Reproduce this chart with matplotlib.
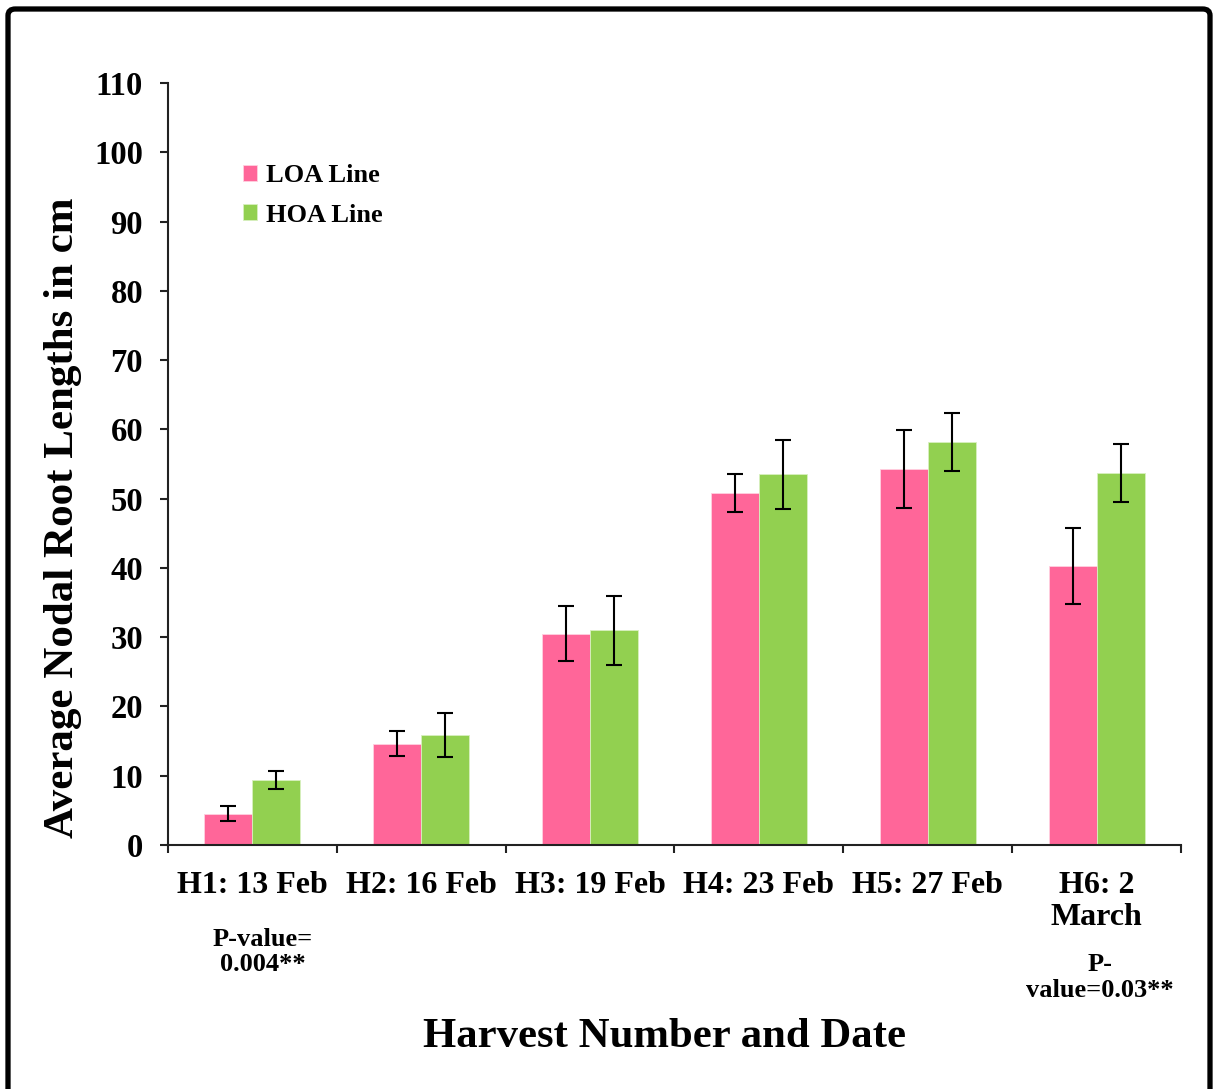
import matplotlib
matplotlib.use("Agg")
import matplotlib.pyplot as plt
from matplotlib.patches import FancyBboxPatch
from matplotlib.ticker import FixedLocator, NullFormatter, FixedFormatter
import numpy as np

categories = ["H1: 13 Feb", "H2: 16 Feb", "H3: 19 Feb", "H4: 23 Feb", "H5: 27 Feb", "H6: 2\nMarch"]
loa_values = [4.5, 14.6, 30.5, 50.8, 54.3, 40.3]
loa_errors = [1.1, 1.8, 4.0, 2.7, 5.6, 5.5]
hoa_values = [9.4, 15.9, 31.0, 53.5, 58.2, 53.7]
hoa_errors = [1.25, 3.2, 5.0, 5.0, 4.15, 4.15]
series_names = ["LOA Line", "HOA Line"]
y_ticks = list(range(0, 111, 10))

pink = "#FF6699"
green = "#92D050"
font = "Liberation Serif"
plt.rcParams['font.family'] = [font, 'DejaVu Serif']
plt.rcParams['font.weight'] = 'bold'

fig = plt.figure(figsize=(12.14, 10.89), dpi=100)
W, H = 1214, 1089
ax = fig.add_axes([168 / W, 1 - 845 / H, (1181 - 168) / W, (845 - 83) / H])

x = np.arange(len(categories))
w = 0.284
err_kw = dict(ecolor="black", elinewidth=1.5, capsize=6, capthick=1.5)
ax.bar(x - w / 2, loa_values, w, color=pink, edgecolor="#FFD0E0", linewidth=0.6,
       yerr=loa_errors, error_kw=err_kw, label=series_names[0], zorder=2)
ax.bar(x + w / 2, hoa_values, w, color=green, edgecolor="#D8F0C0", linewidth=0.6,
       yerr=hoa_errors, error_kw=err_kw, label=series_names[1], zorder=2)

ax.set_xlim(-0.5, len(categories) - 0.5)
ax.set_ylim(0, 110)
ax.set_yticks(y_ticks)
ax.set_yticklabels([str(t) for t in y_ticks])

ax.xaxis.set_major_locator(FixedLocator(np.arange(-0.5, len(categories), 1.0)))
ax.xaxis.set_major_formatter(NullFormatter())
ax.xaxis.set_minor_locator(FixedLocator(x))
ax.xaxis.set_minor_formatter(FixedFormatter(categories))

for s in ["top", "right"]:
    ax.spines[s].set_visible(False)
for s in ["left", "bottom"]:
    ax.spines[s].set_linewidth(1.5)
    ax.spines[s].set_color("#222222")

ax.tick_params(axis="y", which="major", direction="out", length=6, width=1.5,
               color="#222222", labelsize=23.5, pad=12)
ax.tick_params(axis="x", which="major", direction="out", length=6, width=1.5,
               color="#222222")
ax.tick_params(axis="x", which="minor", length=0, labelsize=23, pad=19)
for lbl in ax.get_xticklabels(minor=True) + ax.get_yticklabels():
    lbl.set_fontweight("bold")
    lbl.set_linespacing(1.13)

ax.set_ylabel("Average Nodal Root Lengths in cm", fontsize=31, fontweight="bold")
ax.yaxis.label.set_va("center")
ax.yaxis.set_label_coords(-0.104, 0.430)
ax.set_xlabel("Harvest Number and Date", fontsize=30.8, fontweight="bold")
ax.xaxis.label.set_va("center")
ax.xaxis.set_label_coords(0.49, -0.252)

ax.legend(loc="upper left", bbox_to_anchor=(0.058, 0.914), frameon=False,
          prop={"family": font, "weight": "bold", "size": 19},
          handlelength=0.55, handleheight=0.55, handletextpad=0.35, labelspacing=0.62,
          borderaxespad=0.2)

tr = ax.get_xaxis_transform()
ax.text(0.06, -0.140, "P-value=\n0.004**", transform=tr, ha="center", va="center",
        fontsize=19, fontweight="bold", linespacing=1.13)
ax.text(5.02, -0.174, "P-\nvalue=0.03**", transform=tr, ha="center", va="center",
        fontsize=19, fontweight="bold", linespacing=1.15)

# outer frame
frame = FancyBboxPatch((8 / W, -30 / H), (1210 - 8) / W, (H - 9 + 30) / H,
                       boxstyle="round,pad=0,rounding_size=0.006",
                       transform=fig.transFigure, fill=False, edgecolor="black",
                       linewidth=3.8, clip_on=False)
fig.patches.append(frame)

fig.savefig("out.png", dpi=100)
